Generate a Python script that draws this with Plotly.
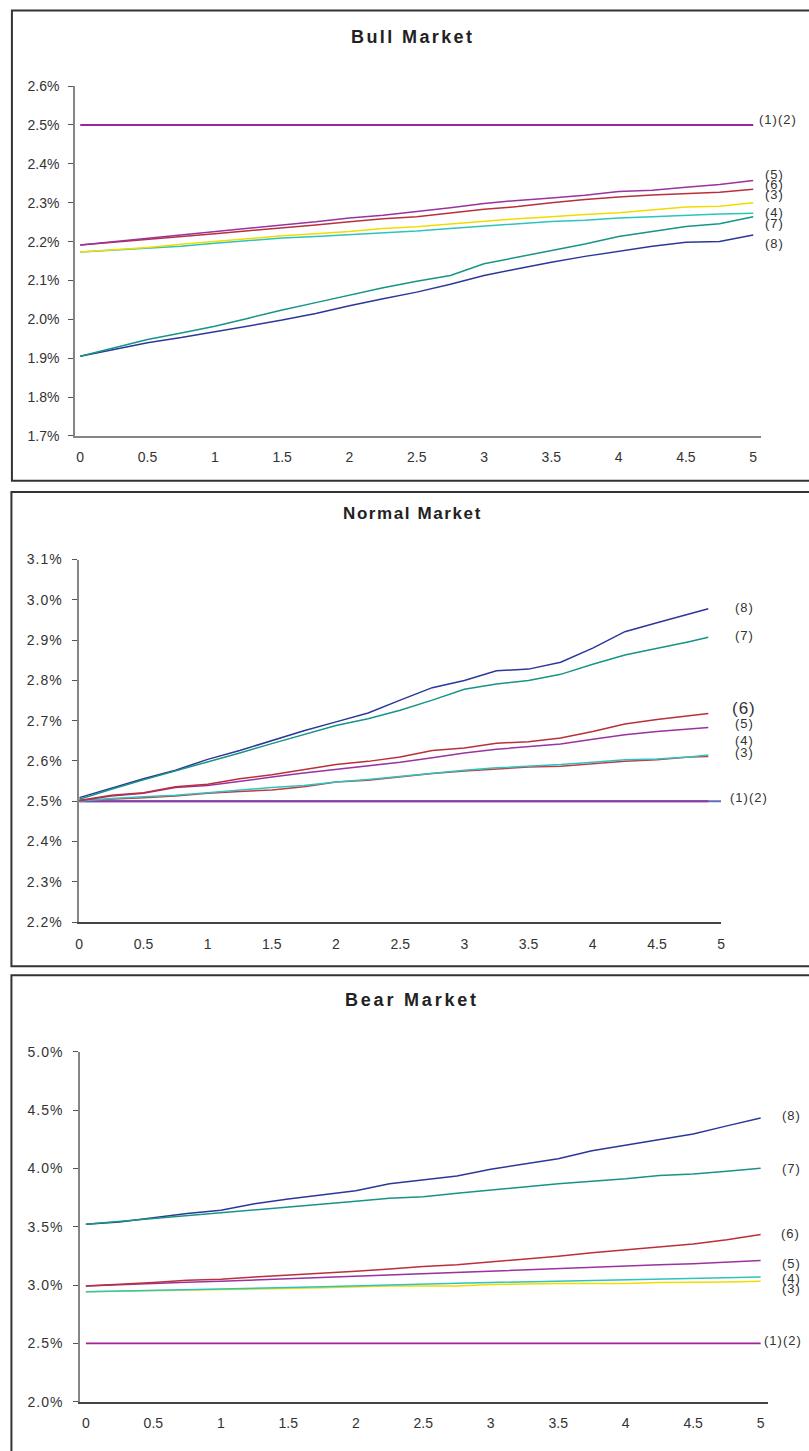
import plotly.graph_objects as go

# ---------------- data ----------------
X_BULL = [0, 0.25, 0.5, 0.75, 1, 1.25, 1.5, 1.75, 2, 2.25, 2.5, 2.75, 3, 3.25, 3.5, 3.75, 4, 4.25, 4.5, 4.75, 5]
X_NORMAL = [0, 0.25, 0.5, 0.75, 1, 1.25, 1.5, 1.75, 2, 2.25, 2.5, 2.75, 3, 3.25, 3.5, 3.75, 4, 4.25, 4.5, 4.75, 4.9]
X_BEAR = [0, 0.25, 0.5, 0.75, 1, 1.25, 1.5, 1.75, 2, 2.25, 2.5, 2.75, 3, 3.25, 3.5, 3.75, 4, 4.25, 4.5, 4.75, 5]
X_FLAT = [0, 5]
X_FLAT_NORMAL = [0, 4.9]

# Bull market (%)
bull_12 = [2.5, 2.5]
bull_3 = [2.173, 2.179, 2.185, 2.193, 2.200, 2.207, 2.215, 2.220, 2.226, 2.234, 2.238, 2.245, 2.252, 2.259, 2.264, 2.270, 2.274, 2.282, 2.289, 2.291, 2.300]
bull_4 = [2.173, 2.178, 2.183, 2.188, 2.196, 2.202, 2.209, 2.213, 2.218, 2.222, 2.227, 2.234, 2.240, 2.247, 2.252, 2.255, 2.261, 2.264, 2.268, 2.271, 2.273]
bull_5 = [2.191, 2.200, 2.208, 2.217, 2.225, 2.234, 2.243, 2.251, 2.261, 2.268, 2.277, 2.287, 2.298, 2.306, 2.312, 2.319, 2.329, 2.332, 2.340, 2.347, 2.357]
bull_6 = [2.191, 2.198, 2.206, 2.213, 2.220, 2.228, 2.235, 2.243, 2.251, 2.259, 2.264, 2.273, 2.283, 2.290, 2.300, 2.308, 2.315, 2.320, 2.324, 2.327, 2.335]
bull_7 = [1.905, 1.926, 1.948, 1.965, 1.982, 2.003, 2.024, 2.043, 2.062, 2.081, 2.098, 2.113, 2.143, 2.160, 2.177, 2.194, 2.213, 2.226, 2.239, 2.246, 2.264]
bull_8 = [1.905, 1.922, 1.940, 1.953, 1.968, 1.983, 1.998, 2.015, 2.035, 2.053, 2.070, 2.090, 2.113, 2.130, 2.147, 2.162, 2.175, 2.188, 2.198, 2.200, 2.217]

# Normal market (%)
normal_1 = [2.5, 2.5]
normal_2 = [2.5, 2.5]
normal_3 = [2.502, 2.505, 2.509, 2.513, 2.520, 2.524, 2.528, 2.536, 2.548, 2.552, 2.561, 2.569, 2.575, 2.580, 2.585, 2.587, 2.593, 2.599, 2.603, 2.610, 2.611]
normal_4 = [2.500, 2.507, 2.511, 2.515, 2.521, 2.528, 2.534, 2.539, 2.548, 2.554, 2.562, 2.570, 2.577, 2.583, 2.587, 2.591, 2.597, 2.603, 2.605, 2.610, 2.615]
normal_5 = [2.501, 2.513, 2.520, 2.534, 2.539, 2.550, 2.560, 2.570, 2.579, 2.589, 2.597, 2.608, 2.620, 2.629, 2.636, 2.642, 2.654, 2.665, 2.673, 2.679, 2.683]
normal_6 = [2.502, 2.515, 2.521, 2.536, 2.542, 2.556, 2.566, 2.579, 2.591, 2.599, 2.610, 2.626, 2.632, 2.644, 2.648, 2.657, 2.673, 2.692, 2.703, 2.712, 2.718]
normal_7 = [2.505, 2.530, 2.553, 2.575, 2.597, 2.620, 2.643, 2.665, 2.688, 2.705, 2.726, 2.751, 2.778, 2.791, 2.800, 2.815, 2.840, 2.863, 2.879, 2.896, 2.907]
normal_8 = [2.509, 2.533, 2.556, 2.577, 2.604, 2.626, 2.650, 2.675, 2.697, 2.719, 2.751, 2.782, 2.800, 2.824, 2.828, 2.845, 2.880, 2.921, 2.943, 2.966, 2.978]

# Bear market (%)
bear_12 = [2.5, 2.5]
bear_3 = [2.943, 2.947, 2.951, 2.957, 2.962, 2.967, 2.971, 2.978, 2.985, 2.991, 2.991, 2.991, 3.005, 3.010, 3.013, 3.013, 3.013, 3.022, 3.022, 3.026, 3.033]
bear_4 = [2.943, 2.950, 2.957, 2.964, 2.971, 2.975, 2.979, 2.985, 2.991, 2.999, 3.008, 3.015, 3.022, 3.028, 3.033, 3.042, 3.050, 3.053, 3.056, 3.063, 3.070]
bear_5 = [2.991, 3.003, 3.019, 3.025, 3.033, 3.044, 3.056, 3.063, 3.078, 3.089, 3.098, 3.106, 3.118, 3.128, 3.140, 3.150, 3.163, 3.173, 3.182, 3.196, 3.211]
bear_6 = [2.991, 3.005, 3.022, 3.041, 3.050, 3.070, 3.084, 3.098, 3.118, 3.138, 3.160, 3.174, 3.197, 3.225, 3.247, 3.276, 3.301, 3.323, 3.352, 3.388, 3.433]
bear_7 = [3.521, 3.545, 3.569, 3.594, 3.620, 3.645, 3.670, 3.694, 3.718, 3.744, 3.757, 3.787, 3.815, 3.842, 3.868, 3.889, 3.910, 3.938, 3.952, 3.976, 4.000]
bear_8 = [3.521, 3.541, 3.577, 3.614, 3.642, 3.696, 3.738, 3.772, 3.809, 3.868, 3.902, 3.935, 3.992, 4.037, 4.082, 4.150, 4.198, 4.240, 4.294, 4.364, 4.432]

# tick labels
X_TICKS = [0, 0.5, 1, 1.5, 2, 2.5, 3, 3.5, 4, 4.5, 5]
X_TICK_TEXT = ["0", "0.5", "1", "1.5", "2", "2.5", "3", "3.5", "4", "4.5", "5"]
Y_TICKS_BULL = [1.7, 1.8, 1.9, 2.0, 2.1, 2.2, 2.3, 2.4, 2.5, 2.6]
Y_TICKS_NORMAL = [2.2, 2.3, 2.4, 2.5, 2.6, 2.7, 2.8, 2.9, 3.0, 3.1]
Y_TICKS_BEAR = [2.0, 2.5, 3.0, 3.5, 4.0, 4.5, 5.0]

TITLES = ["Bull Market", "Normal Market", "Bear Market"]

# ---------------- styling ----------------
W, H = 809, 1451
FONT = "Liberation Sans, Arial, sans-serif"
TXT = "#333333"
AXIS = "#858585"
AXIS_DARK = "#444444"

C12 = "#A3219B"
C12N = "#8E3A9E"
C1N_TAIL = "#5C6FB8"
C3 = "#F2DC00"
C3N = "#C43A44"
C4 = "#2EC4BE"
C5 = "#9933A0"
C6 = "#BB2F3A"
C7 = "#179486"
C8 = "#2B3899"


def fx(p):
    return p / W


def fy(p):
    return 1 - p / H


fig = go.Figure()


def add(x, y, color, ax, width=1.5):
    fig.add_trace(go.Scatter(x=x, y=y, mode="lines", line=dict(color=color, width=width),
                             xaxis="x" + ax, yaxis="y" + ax, showlegend=False, hoverinfo="skip"))


# panel 1 (axis suffix "")
add(X_FLAT, bull_12, C12, "", 2.2)
add(X_BULL, bull_8, C8, "")
add(X_BULL, bull_7, C7, "")
add(X_BULL, bull_4, C4, "")
add(X_BULL, bull_3, C3, "")
add(X_BULL, bull_6, C6, "")
add(X_BULL, bull_5, C5, "")

# panel 2
add(X_FLAT, normal_1, C1N_TAIL, "2", 2.2)
add(X_FLAT_NORMAL, normal_2, C12N, "2", 2.2)
add(X_NORMAL, normal_8, C8, "2")
add(X_NORMAL, normal_7, C7, "2")
add(X_NORMAL, normal_3, C3N, "2")
add(X_NORMAL, normal_4, C4, "2")
add(X_NORMAL, normal_5, C5, "2")
add(X_NORMAL, normal_6, C6, "2")

# panel 3
add(X_FLAT, bear_12, C12, "3", 1.8)
add(X_BEAR, bear_8, C8, "3")
add(X_BEAR, bear_7, C7, "3")
add(X_BEAR, bear_3, C3, "3")
add(X_BEAR, bear_4, C4, "3")
add(X_BEAR, bear_5, C5, "3")
add(X_BEAR, bear_6, C6, "3")


def spaced(t, s):
    return '<span style="letter-spacing:%spx">%s</span>' % (s, t)


def xaxis(dom, rng, anchor, color):
    return dict(domain=[fx(dom[0]), fx(dom[1])], range=rng, anchor=anchor,
                showline=True, linecolor=color, linewidth=1.5, ticks="",
                tickvals=X_TICKS, ticktext=X_TICK_TEXT, showgrid=False, zeroline=False,
                tickfont=dict(family=FONT, size=14, color=TXT), ticklabelstandoff=8,
                fixedrange=True)


def yaxis(dom, rng, anchor, ticks, spacing, standoff):
    text = [spaced("%.1f%%" % v, spacing) if spacing else "%.1f%%" % v for v in ticks]
    return dict(domain=[fy(dom[1]), fy(dom[0])], range=rng, anchor=anchor,
                showline=True, linecolor=AXIS, linewidth=1.5, ticks="outside", ticklen=5,
                tickcolor="#555555", tickwidth=1, tickvals=ticks, ticktext=text,
                showgrid=False, zeroline=False,
                tickfont=dict(family=FONT, size=14, color=TXT), ticklabelstandoff=standoff,
                fixedrange=True)


fig.update_layout(
    width=W, height=H, margin=dict(l=0, r=0, t=0, b=0),
    paper_bgcolor="white", plot_bgcolor="white",
    xaxis=xaxis((71.7, 765), [-0.039, 5.061], "y", AXIS),
    yaxis=yaxis((79, 432.7), [Y_TICKS_BULL[0], Y_TICKS_BULL[-1]], "x", Y_TICKS_BULL, 0, 6),
    xaxis2=xaxis((76, 724.3), [0, 5], "y2", AXIS_DARK),
    yaxis2=yaxis((557.7, 924.3), [Y_TICKS_NORMAL[0], Y_TICKS_NORMAL[-1]], "x2", Y_TICKS_NORMAL, 1, 7),
    xaxis3=xaxis((76.7, 771.7), [-0.044, 5.055], "y3", AXIS_DARK),
    yaxis3=yaxis((1055.3, 1409.3), [Y_TICKS_BEAR[0], Y_TICKS_BEAR[-1]], "x3", Y_TICKS_BEAR, 1, 7),
)

# panel borders (page-pixel boxes; the right side runs off the page)
for (x0, y0, x1, y1) in [(8, 2.5, 815, 478), (7.5, 489.5, 815, 969), (7.5, 978, 815, 1460)]:
    fig.add_shape(type="rect", xref="paper", yref="paper", x0=fx(x0), x1=fx(x1), y0=fy(y1), y1=fy(y0),
                  line=dict(color="#333333", width=2), fillcolor="rgba(0,0,0,0)", layer="above")

# titles: (y centre px, font size, letter spacing)
TITLE_POS = [(29, 18, 2.4), (511.2, 17, 1.6), (1003.3, 18, 2.8)]
for title, (ypx, size, sp) in zip(TITLES, TITLE_POS):
    fig.add_annotation(x=fx(412.5), y=fy(ypx), xref="paper", yref="paper", showarrow=False,
                       xanchor="center", yanchor="middle",
                       text="<b>" + spaced(title, sp) + "</b>",
                       font=dict(family=FONT, size=size, color="#222222"))

# series labels: (text, left px, center y px, size)
LABELS = [
    ("(1)(2)", 761, 113, 13), ("(5)", 767, 168, 13), ("(6)", 767, 178, 13), ("(3)", 767, 189, 13),
    ("(4)", 767, 207, 13), ("(7)", 767, 218, 13), ("(8)", 767, 238, 13),
    ("(8)", 736, 605.7, 13), ("(7)", 736, 635, 13), ("(6)", 733, 708, 17), ("(5)", 736, 723, 13),
    ("(4)", 736, 741, 13), ("(3)", 736, 753, 13), ("(1)(2)", 731.7, 798, 13),
    ("(8)", 784, 1120.3, 13), ("(7)", 784, 1173, 13), ("(6)", 783, 1239, 13), ("(5)", 784, 1269, 13),
    ("(4)", 784, 1285, 13), ("(3)", 784, 1295, 13), ("(1)(2)", 765.7, 1347.3, 13),
]
for t, lx, ly, s in LABELS:
    fig.add_annotation(x=fx(lx), y=fy(ly), xref="paper", yref="paper", showarrow=False,
                       xanchor="left", yanchor="middle", text=spaced(t, 1),
                       font=dict(family=FONT, size=s, color=TXT))

fig.write_html(
    "out.html",
    config={"displayModeBar": False},
    post_script="document.body.style.margin='0';document.body.style.overflow='hidden';",
)
